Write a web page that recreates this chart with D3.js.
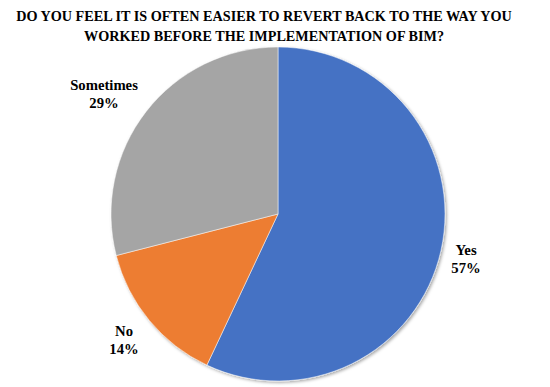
<!DOCTYPE html>
<html>
<head>
<meta charset="utf-8">
<script src="https://cdn.jsdelivr.net/npm/d3@7"></script>
<style>
  body { margin: 0; background: #fff; }
</style>
</head>
<body>
<div id="chart"></div>
<script>
var categories = ["Yes", "No", "Sometimes"];
var values = [57, 14, 29];
var colors = ["#4472C4", "#ED7D31", "#A5A5A5"];
var titleLines = ["DO YOU FEEL IT IS OFTEN EASIER TO REVERT BACK TO THE WAY YOU",
                  "WORKED BEFORE THE IMPLEMENTATION OF BIM?"];
// label anchor points (centre of the two-line label)
var labelPos = [[466, 258], [124, 339], [104, 93]];
var font = "Liberation Serif";

var width = 550, height = 387,
    cx = 278, cy = 214, radius = 167;

var svg = d3.select("#chart")
  .append("svg")
    .attr("width", width)
    .attr("height", height);

var defs = svg.append("defs");
var shadow = defs.append("filter")
    .attr("id", "shadow")
    .attr("x", "-10%").attr("y", "-10%")
    .attr("width", "120%").attr("height", "120%");
shadow.append("feDropShadow")
    .attr("dx", 1.5).attr("dy", 1.5)
    .attr("stdDeviation", 1.5)
    .attr("flood-color", "#000")
    .attr("flood-opacity", 0.35);

svg.selectAll("text.title")
  .data(titleLines)
  .enter().append("text")
    .attr("class", "title")
    .attr("x", 264)
    .attr("y", function(d, i) { return 21 + i * 19.5; })
    .attr("text-anchor", "middle")
    .attr("font-family", font)
    .attr("font-weight", "bold")
    .attr("font-size", 14.2)
    .text(function(d) { return d; });

var color = d3.scaleOrdinal()
  .domain(categories)
  .range(colors);

var pie = d3.pie()
  .sort(null)
  .value(function(d, i) { return values[i]; });

var arc = d3.arc()
  .innerRadius(0)
  .outerRadius(radius);

var g = svg.append("g")
    .attr("transform", "translate(" + cx + "," + cy + ")");

g.append("g")
    .attr("filter", "url(#shadow)")
  .selectAll("path")
  .data(pie(categories))
  .enter().append("path")
    .attr("d", arc)
    .attr("fill", function(d) { return color(d.data); })
    .attr("stroke", "#fff")
    .attr("stroke-width", 0.5);

var labels = svg.append("g")
  .selectAll("text")
  .data(pie(categories))
  .enter().append("text")
    .attr("text-anchor", "middle")
    .attr("font-family", font)
    .attr("font-weight", "bold")
    .attr("font-size", 14.7)
    .attr("transform", function(d, i) {
      return "translate(" + labelPos[i][0] + "," + labelPos[i][1] + ")";
    });

labels.append("tspan")
    .attr("x", 0)
    .attr("y", -3)
    .text(function(d) { return d.data; });

labels.append("tspan")
    .attr("x", 0)
    .attr("y", 14.5)
    .text(function(d) { return Math.round((d.endAngle - d.startAngle) / (2 * Math.PI) * 100) + "%"; });
</script>
</body>
</html>
